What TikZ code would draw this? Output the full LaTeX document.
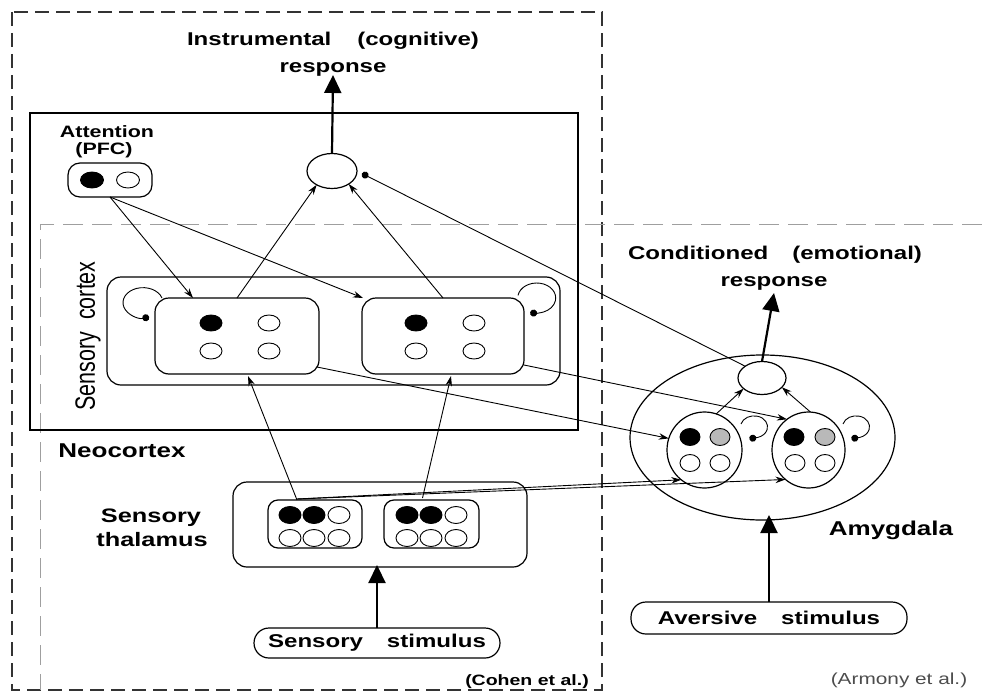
\documentclass[tikz,border=0pt]{standalone}
\usepackage{graphicx}
\usepackage{fontspec}
\setmainfont[FakeStretch=1.3]{Liberation Sans}
\newfontfamily\plainsans{Liberation Sans}
\usetikzlibrary{shapes.geometric,arrows.meta}
\begin{document}
\begin{tikzpicture}[x=1pt,y=-1pt,
  every node/.style={inner sep=0pt, outer sep=0pt},
  rbox/.style={draw, line width=1.2pt, rounded corners=#1},
  rbox/.default=14pt,
  ell/.style={draw, ellipse, line width=1.2pt},
  dotbase/.style={ellipse, draw, line width=0.9pt, minimum width=22pt, minimum height=16pt},
  fdot/.style={dotbase, fill=black},
  odot/.style={dotbase, fill=white},
  gdot/.style={dotbase, fill=gray!55},
  conn/.style={line width=0.9pt, -{Stealth[length=10pt,width=6.5pt]}},
  inhib/.style={line width=0.9pt, -{Circle[length=7pt,width=7pt]}},
  bigarr/.style={line width=2.2pt, -{Triangle[length=18pt,width=17pt]}},
  lbl/.style={anchor=base, font=\bfseries\fontsize{18.5}{22}\selectfont},
  biglbl/.style={anchor=base, font=\bfseries\fontsize{19.5}{22}\selectfont},
  cohen/.style={draw=black!80, line width=1.1pt, dash pattern=on 14pt off 7pt},
  armony/.style={draw=gray!75, line width=1pt, dash pattern=on 20pt off 9pt}
]
\useasboundingbox (0,0) rectangle (982,693);

% dashed frames
\draw[cohen] (12,12) rectangle (602,690);
\draw[armony] (982,224) -- (40,224) -- (40,690);

% neocortex box
\node[draw, line width=1.3pt, minimum width=548pt, minimum height=317pt] (neo) at (304,271.5) {};
\node[biglbl, font=\bfseries\fontsize{20}{22}\selectfont] (neolbl) at (122,457) {Neocortex};

% sensory cortex
\node[rbox, minimum width=453pt, minimum height=108pt] (sc) at (333.5,331) {};
\node[rotate=90] (sclbl) at (88,336) {\scalebox{1}[1.3]{\plainsans\fontsize{21.5}{24}\selectfont Sensory\hspace{12pt}cortex}};
\node[rbox, minimum width=164pt, minimum height=76pt] (lc) at (237,336) {};
\node[rbox, minimum width=162pt, minimum height=76pt] (rc) at (443,336) {};
\node[fdot] (lc1) at (211,323) {};
\node[odot] (lc2) at (269,323) {};
\node[odot] (lc3) at (211,351) {};
\node[odot] (lc4) at (269,351) {};
\node[fdot] (rc1) at (416,323) {};
\node[odot] (rc2) at (474,323) {};
\node[odot] (rc3) at (416,351) {};
\node[odot] (rc4) at (474,351) {};

% attention
\node[lbl, font=\bfseries\fontsize{16.5}{20}\selectfont] (attlbl) at (107,137) {Attention};
\node[lbl, font=\bfseries\fontsize{16.5}{20}\selectfont] (pfclbl) at (104,154) {(PFC)};
\node[rbox=12pt, minimum width=84pt, minimum height=34pt] (att) at (110,180) {};
\node[fdot, minimum width=23pt] (at1) at (92,180) {};
\node[odot, minimum width=23pt] (at2) at (128,180) {};

% instrumental response
\node[ell, minimum width=50pt, minimum height=35pt] (ir) at (332,171) {};
\node[lbl] (it1) at (333,45.5) {Instrumental\hspace{26pt}(cognitive)};
\node[lbl] (it2) at (333,72) {response};

% thalamus
\node[rbox, minimum width=294pt, minimum height=85pt] (thal) at (380,524.5) {};
\node[biglbl] (thl1) at (151,522) {Sensory};
\node[biglbl] (thl2) at (152,546) {thalamus};
\node[rbox=10pt, minimum width=94pt, minimum height=48pt] (thleft) at (315,524) {};
\node[rbox=10pt, minimum width=95pt, minimum height=48pt] (thright) at (431.5,524) {};
\foreach \n/\x/\y/\s in {a/290/515/fdot, b/314/515/fdot, c/339/515/odot, d/290/538/odot, e/314/538/odot, f/339/538/odot,
                         g/407/515/fdot, h/431/515/fdot, i/456/515/odot, j/407/538/odot, k/431/538/odot, m/456/538/odot}
  \node[\s, minimum width=22pt, minimum height=17pt] (tdot\n) at (\x,\y) {};

% sensory stimulus
\node[rbox=15pt, minimum width=246pt, minimum height=30pt, font=\bfseries\fontsize{18.5}{22}\selectfont] (ss) at (377,643) {Sensory\hspace{24pt}stimulus};
\node[anchor=base, font=\bfseries\fontsize{15}{18}\selectfont] (cohenlbl) at (527,685) {(Cohen et al.)};

% amygdala
\node[ell, minimum width=265pt, minimum height=165pt] (amy) at (762.5,437.5) {};
\node[biglbl, font=\bfseries\fontsize{20}{22}\selectfont] (amylbl) at (891,535) {Amygdala};
\node[ell, minimum width=75pt, minimum height=76pt] (la) at (704.5,450) {};
\node[ell, minimum width=73pt, minimum height=76pt] (rb) at (808.5,450) {};
\node[fdot, minimum width=20pt, minimum height=17pt] (la1) at (690,437) {};
\node[gdot, minimum width=20pt, minimum height=17pt] (la2) at (720,437) {};
\node[odot, minimum width=20pt, minimum height=17pt] (la3) at (690,463) {};
\node[odot, minimum width=20pt, minimum height=17pt] (la4) at (720,463) {};
\node[fdot, minimum width=20pt, minimum height=17pt] (rb1) at (794,437) {};
\node[gdot, minimum width=20pt, minimum height=17pt] (rb2) at (825,437) {};
\node[odot, minimum width=20pt, minimum height=17pt] (rb3) at (795,463) {};
\node[odot, minimum width=20pt, minimum height=17pt] (rb4) at (825,463) {};
\node[ell, minimum width=48pt, minimum height=33pt] (ao) at (762,378) {};
\node[lbl] (ct1) at (775,259) {Conditioned\hspace{24pt}(emotional)};
\node[lbl] (ct2) at (774,286) {response};

% aversive stimulus
\node[rbox=15pt, minimum width=276pt, minimum height=32pt, font=\bfseries\fontsize{18.5}{22}\selectfont] (as) at (769,618) {Aversive\hspace{24pt}stimulus};
\node[anchor=base, text=black!70, font=\plainsans\fontsize{16}{18}\selectfont\addfontfeature{FakeStretch=1.3}] (armlbl) at (899,684) {(Armony et al.)};

% ---------- connectors ----------
\draw[bigarr] (ir.north) -- ([yshift=-3pt]it2.base);
\draw[bigarr] (ao.north) -- ([yshift=-7pt]ct2.base);
\draw[bigarr, shorten >=-2pt] (ss.north) -- (ss.north |- thal.south);
\draw[bigarr, shorten >=-5pt] (as.north) -- (as.north |- amy.south);

\draw[conn] (att.south) -- ([xshift=38pt]lc.north west);
\draw[conn] (att.south) -- ([xshift=1pt]rc.north west);
\draw[conn] (lc.north) -- (ir.222);
\draw[conn] (rc.north) -- (ir.-38);
\draw[inhib] (ao.145) -- ([xshift=5pt,yshift=-2.5pt]ir.east);

\draw[conn] ([xshift=-2pt,yshift=7pt]lc.south east) -- (la.162);
\draw[conn] ([yshift=9pt]rc.south east) -- (rb.125);

\draw[conn] ([xshift=-18pt]thleft.north) -- ([xshift=11pt,yshift=-2pt]lc.south);
\draw[conn] ([xshift=-9pt,yshift=2pt]thright.north) -- ([xshift=8pt,yshift=-2pt]rc.south);
\draw[conn] ([xshift=-18pt,yshift=1pt]thleft.north) -- (la.232);
\draw[conn] ([xshift=-18pt,yshift=1pt]thleft.north) -- (rb.232);

\draw[conn] (la.72) -- (ao.210);
\draw[conn] (rb.87) -- (ao.-25);

% self loops
\draw[inhib] ([xshift=7pt]lc.north west) arc[start angle=-18, end angle=-288, x radius=20, y radius=15];
\draw[inhib] ([xshift=-6pt,yshift=2.6pt]rc.north east) arc[start angle=-170, end angle=110, x radius=19, y radius=15];
\draw[inhib] ([xshift=36.5pt,yshift=26pt]la.center) arc[start angle=-165, end angle=110, x radius=13.5, y radius=11];
\draw[inhib] ([xshift=34.5pt,yshift=26pt]rb.center) arc[start angle=-165, end angle=110, x radius=13.5, y radius=11];
\end{tikzpicture}
\end{document}
